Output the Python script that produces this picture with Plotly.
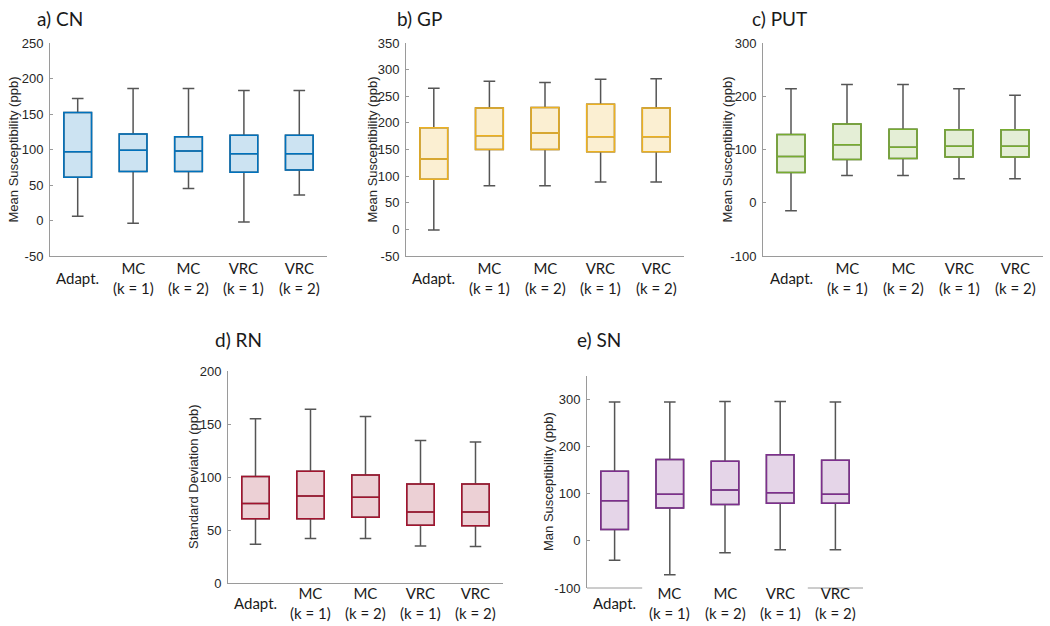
import plotly.graph_objects as go

W, H = 1050, 626

categories = ["Adapt.", "MC<br>(k = 1)", "MC<br>(k = 2)", "VRC<br>(k = 1)", "VRC<br>(k = 2)"]
positions = [1, 2, 3, 4, 5]

# a) CN
cn_low = [6, -4, 45, -2, 36]
cn_q1 = [61, 69, 69, 68, 71]
cn_med = [97, 99, 98, 94, 94]
cn_q3 = [152, 122, 118, 120, 120]
cn_high = [172, 186, 186, 183, 183]

# b) GP
gp_low = [-1, 82, 82, 89, 89]
gp_q1 = [94, 150, 150, 146, 146]
gp_med = [132, 176, 181, 174, 174]
gp_q3 = [191, 228, 229, 235, 228]
gp_high = [265, 278, 276, 282, 283]

# c) PUT
put_low = [-15, 51, 51, 45, 45]
put_q1 = [57, 81, 83, 86, 86]
put_med = [87, 109, 104, 106, 106]
put_q3 = [128, 148, 138, 137, 137]
put_high = [214, 222, 222, 214, 202]

# d) RN
rn_low = [36.5, 42, 42, 35, 34.5]
rn_q1 = [60.5, 60.5, 62, 54.5, 54]
rn_med = [75, 82, 81, 67, 67]
rn_q3 = [100.5, 105.5, 102, 93.5, 93.5]
rn_high = [155, 164, 157, 134.5, 133]

# e) SN
sn_low = [-41, -72, -25, -19, -19]
sn_q1 = [24, 70, 77, 80, 80]
sn_med = [85, 99, 108, 102, 99]
sn_q3 = [148, 173, 169, 183, 171]
sn_high = [295, 295, 296, 296, 295]

# layout in pixels: plot box (x0, y0, x1, y1), title pos, y-label x, category label y
panels = [
    dict(title="a) CN", ylabel="Mean Susceptibility (ppb)", rgb=(0, 114, 189),
         data=(cn_low, cn_q1, cn_med, cn_q3, cn_high),
         yrange=[-50, 250], ticks=list(range(-50, 251, 50)),
         box=(50, 43, 327, 256), tpos=(35, 18), ylab_x=13, lab_y=278),
    dict(title="b) GP", ylabel="Mean Susceptibility (ppb)", rgb=(237, 177, 32),
         data=(gp_low, gp_q1, gp_med, gp_q3, gp_high),
         yrange=[-50, 350], ticks=list(range(-50, 351, 50)),
         box=(406, 43, 684, 256), tpos=(395, 18), ylab_x=372, lab_y=278),
    dict(title="c) PUT", ylabel="Mean Susceptibility (ppb)", rgb=(119, 172, 48),
         data=(put_low, put_q1, put_med, put_q3, put_high),
         yrange=[-100, 300], ticks=list(range(-100, 301, 100)),
         box=(763, 43, 1043, 256), tpos=(750, 18), ylab_x=727, lab_y=278),
    dict(title="d) RN", ylabel="Standard Deviation (ppb)", rgb=(162, 20, 47),
         data=(rn_low, rn_q1, rn_med, rn_q3, rn_high),
         yrange=[0, 200], ticks=list(range(0, 201, 50)),
         box=(228, 371, 503, 583), tpos=(213, 340), ylab_x=193, lab_y=603),
    dict(title="e) SN", ylabel="Man Susceptibility (ppb)", rgb=(126, 47, 142),
         data=(sn_low, sn_q1, sn_med, sn_q3, sn_high),
         yrange=[-100, 350], ticks=list(range(-100, 301, 100)),
         box=(587, 376, 863, 588), tpos=(575, 340), ylab_x=548, lab_y=603),
]

WHISKER = "#555555"
AXIS = "#9a9a9a"
TICKFONT = dict(family="Liberation Sans, Arial", size=13, color="#262626")
LABELFONT = dict(family="Lato, Noto Sans", size=15, color="#1a1a1a")


def px(x):
    return x / W


def py(y):
    return 1 - y / H


fig = go.Figure()
layout = {}
annotations = []
shapes = []

for i, p in enumerate(panels, start=1):
    sfx = "" if i == 1 else str(i)
    xa, ya = "x" + sfx, "y" + sfx
    low, q1, med, q3, high = p["data"]
    r, g, b = p["rgb"]
    edge = f"rgb({r},{g},{b})"
    fill = f"rgba({r},{g},{b},0.2)"

    # whiskers (grey)
    fig.add_trace(go.Box(
        x=positions, q1=q1, median=med, q3=q3, lowerfence=low, upperfence=high,
        width=0.5, whiskerwidth=0.42, line=dict(color=WHISKER, width=1.5),
        fillcolor="rgba(0,0,0,0)", boxpoints=False, hoverinfo="skip",
        showlegend=False, xaxis=xa, yaxis=ya))
    # coloured box + median
    fig.add_trace(go.Box(
        x=positions, q1=q1, median=med, q3=q3, lowerfence=q1, upperfence=q3,
        width=0.5, whiskerwidth=0, line=dict(color=edge, width=1.5),
        fillcolor=fill, boxpoints=False, hoverinfo="skip",
        showlegend=False, xaxis=xa, yaxis=ya))

    x0, y0, x1, y1 = p["box"]
    last = i == 5
    layout["xaxis" + sfx] = dict(
        domain=[px(x0), px(x1)], anchor=ya, range=[0.5, 5.5], showgrid=False,
        zeroline=False, showticklabels=False, ticks="", automargin=False,
        showline=not last, linecolor=AXIS, linewidth=1)
    layout["yaxis" + sfx] = dict(
        domain=[py(y1), py(y0)], anchor=xa, range=p["yrange"], tickvals=p["ticks"],
        ticktext=[str(t) for t in p["ticks"]], automargin=False,
        showgrid=False, zeroline=False, showline=True, linecolor=AXIS,
        linewidth=1, ticks="inside", ticklen=3, tickcolor=AXIS,
        tickfont=TICKFONT, ticklabelstandoff=3)

    for pos, lab in zip(positions, categories):
        annotations.append(dict(
            x=pos, y=py(p["lab_y"]), xref=xa, yref="paper", text=lab,
            showarrow=False, xanchor="center", yanchor="middle",
            font=LABELFONT, align="center"))

    annotations.append(dict(
        x=px(p["ylab_x"]), y=py((y0 + y1) / 2), xref="paper", yref="paper",
        text=p["ylabel"], textangle=-90, showarrow=False,
        xanchor="center", yanchor="middle",
        font=dict(family="Liberation Sans, Arial", size=13, color="#262626")))

    tx, ty = p["tpos"]
    annotations.append(dict(
        x=px(tx), y=py(ty), xref="paper", yref="paper", text=p["title"],
        showarrow=False, xanchor="left", yanchor="middle",
        font=dict(family="Lato, Noto Sans", size=19, color="#1a1a1a")))

    if last:
        for a0, a1 in [(0.5, 1.5), (4.5, 5.5)]:
            shapes.append(dict(
                type="line", xref=xa, yref=ya + " domain", x0=a0, x1=a1,
                y0=0, y1=0, line=dict(color=AXIS, width=1)))

fig.update_layout(
    width=W, height=H, margin=dict(l=0, r=0, t=0, b=0, autoexpand=False),
    paper_bgcolor="white", plot_bgcolor="white", boxmode="overlay",
    template="none", annotations=annotations, shapes=shapes, **layout)

fig.write_html("out.html", config={"displayModeBar": False},
               post_script="document.body.style.margin = '0';")
